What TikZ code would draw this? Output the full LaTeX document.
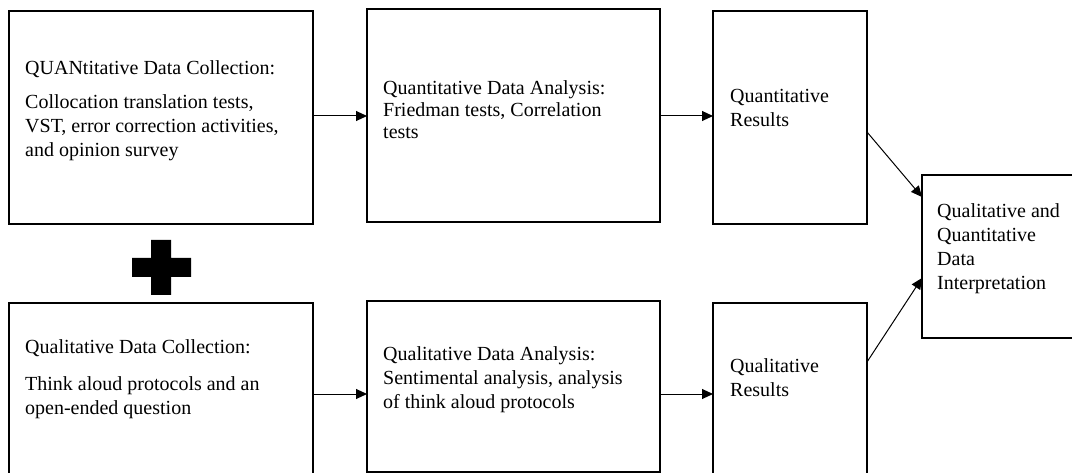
\documentclass[tikz,border=0pt]{standalone}
\usepackage{fontspec}
\setmainfont{Liberation Serif}
\usetikzlibrary{arrows.meta,calc}
\begin{document}
\begin{tikzpicture}[x=1pt,y=-1pt,
  box/.style={draw=black,line width=1.7pt,anchor=north west,inner sep=0pt,outer sep=0pt},
  txt/.style={anchor=north west,inner sep=0pt,align=left,font=\fontsize{20}{24}\selectfont},
  link/.style={line width=1pt,-{Triangle[length=11pt,width=10pt]}},
]
\useasboundingbox (0,0) rectangle (1072,473);
\clip (0,0) rectangle (1072,473);

% frames
\node[box,minimum width=304pt,minimum height=213pt] (b1) at (9,11) {};
\node[box,minimum width=293pt,minimum height=213pt] (b2) at (367,9) {};
\node[box,minimum width=154pt,minimum height=213pt] (b3) at (713,11) {};
\node[box,minimum width=304pt,minimum height=183pt] (b4) at (9,303) {};
\node[box,minimum width=293pt,minimum height=171pt] (b5) at (367,301) {};
\node[box,minimum width=154pt,minimum height=183pt] (b6) at (713,303) {};
\node[box,minimum width=160pt,minimum height=163pt] (b7) at (922,175) {};

% texts (the rule fixes the top of each block 15pt above its first baseline)
\node[txt] (t1) at (25,59) {\rule{0pt}{15pt}QUANtitative Data Collection:\\[10pt]
  Collocation translation tests,\\ VST, error correction activities,\\ and opinion survey};
\node[txt,font=\fontsize{20}{22}\selectfont] (t2) at (383,79) {\rule{0pt}{15pt}Quantitative Data Analysis:\\
  Friedman tests, Correlation\\ tests};
\node[txt] (t3) at (730,87) {\rule{0pt}{15pt}Quantitative\\ Results};
\node[txt] (t4) at (25,338) {\rule{0pt}{15pt}Qualitative Data Collection:\\[13pt]
  Think aloud protocols and an\\ open-ended question};
\node[txt] (t5) at (383,345) {\rule{0pt}{15pt}Qualitative Data Analysis:\\
  Sentimental analysis, analysis\\ of think aloud protocols};
\node[txt] (t6) at (730,357) {\rule{0pt}{15pt}Qualitative\\ Results};
\node[txt] (t7) at (937,202) {\rule{0pt}{15pt}Qualitative and\\ Quantitative\\ Data\\ Interpretation};

% plus sign between the two collection boxes
\fill (151,240) -- (171,240) -- (171,258) -- (191,258) -- (191,277) -- (171,277)
  -- (171,295) -- (151,295) -- (151,277) -- (132,277) -- (132,258) -- (151,258) -- cycle;

% connectors
\coordinate (r1) at (0,116);
\coordinate (r2) at (0,394);
\draw[link] (b1.east |- r1) -- (b2.west |- r1);
\draw[link] (b2.east |- r1) -- (b3.west |- r1);
\draw[link] (b4.east |- r2) -- (b5.west |- r2);
\draw[link] (b5.east |- r2) -- (b6.west |- r2);
\draw[link] ([yshift=-14.5pt]b3.east) -- ([yshift=59.5pt]b7.west);
\draw[link] ([yshift=32.5pt]b6.east) -- ([yshift=-21.5pt]b7.west);
\end{tikzpicture}
\end{document}
